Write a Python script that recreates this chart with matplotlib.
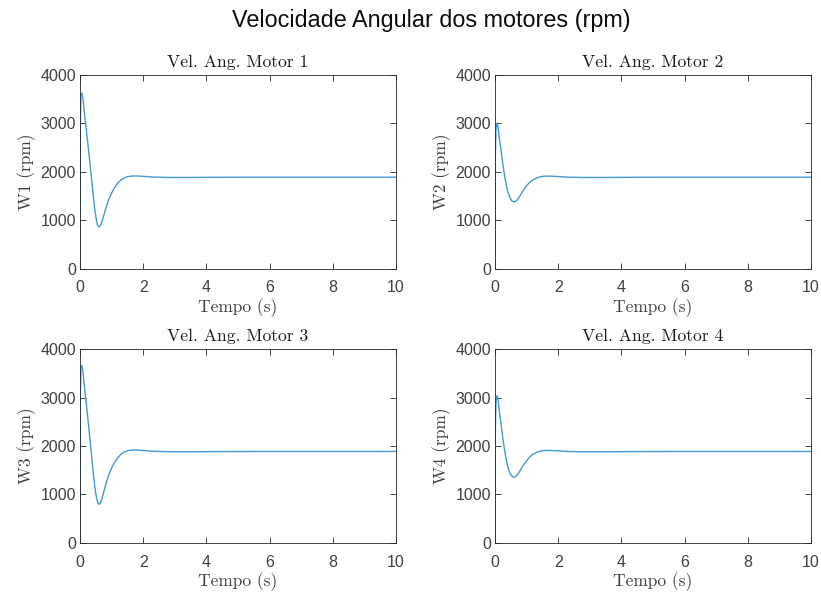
import matplotlib
matplotlib.use("Agg")
import matplotlib.pyplot as plt

t = [0, 0.01, 0.03, 0.05, 0.07, 0.1, 0.14, 0.2, 0.26, 0.32, 0.37, 0.42, 0.47, 0.52,
     0.56, 0.6, 0.64, 0.69, 0.74, 0.82, 0.9, 1.0, 1.11, 1.2, 1.32, 1.42, 1.53, 1.65,
     1.79, 2.0, 2.32, 2.8, 3.5, 4.5, 6, 8, 10]

W1 = [0, 3000, 3580, 3630, 3610, 3480, 3200, 2860, 2510, 2140, 1825, 1500, 1206, 1000,
      890, 855, 880, 960, 1068, 1250, 1412, 1560, 1687, 1770, 1845, 1880, 1900, 1912,
      1913, 1905, 1890, 1882, 1882, 1886, 1888, 1888, 1888]
W2 = [0, 2300, 2850, 2980, 3006, 2900, 2680, 2400, 2099, 1860, 1687, 1560, 1468, 1410,
      1385, 1377, 1385, 1410, 1447, 1535, 1619, 1710, 1790, 1835, 1872, 1893, 1907, 1910,
      1908, 1900, 1887, 1882, 1882, 1886, 1888, 1888, 1888]
W3 = [0, 3050, 3610, 3660, 3640, 3500, 3220, 2870, 2500, 2110, 1780, 1450, 1150, 940,
      830, 795, 820, 905, 1020, 1215, 1385, 1545, 1678, 1765, 1845, 1885, 1905, 1918,
      1918, 1908, 1892, 1883, 1882, 1886, 1888, 1888, 1888]
W4 = [0, 2350, 2890, 3010, 3040, 2930, 2700, 2410, 2100, 1850, 1670, 1540, 1445, 1390,
      1365, 1357, 1365, 1392, 1430, 1520, 1607, 1700, 1782, 1830, 1870, 1892, 1906, 1910,
      1908, 1900, 1887, 1882, 1882, 1886, 1888, 1888, 1888]

series = [W1, W2, W3, W4]
titles = ["Vel. Ang. Motor 1", "Vel. Ang. Motor 2", "Vel. Ang. Motor 3", "Vel. Ang. Motor 4"]
ylabels = ["W1 (rpm)", "W2 (rpm)", "W3 (rpm)", "W4 (rpm)"]
xticks = [0, 2, 4, 6, 8, 10]
yticks = [0, 1000, 2000, 3000, 4000]

W, H = 821, 592
fig = plt.figure(figsize=(W / 100, H / 100), dpi=100)
fig.patch.set_facecolor("white")

axcol = (0.15, 0.15, 0.15)
labcol = (0.25, 0.25, 0.25)
serif = ["cmr10", "DejaVu Serif"]

lefts = [80, 495]
tops = [75, 349.3]
aw, ah = 316, 193.5

for i, (w, ttl, yl) in enumerate(zip(series, titles, ylabels)):
    r, c = divmod(i, 2)
    ax = fig.add_axes([lefts[c] / W, 1 - (tops[r] + ah) / H, aw / W, ah / H])
    ax.plot(t, w, color="#4398d6", lw=1.0)
    ax.set_xlim(0, 10)
    ax.set_ylim(0, 4000)
    ax.set_xticks(xticks)
    ax.set_yticks(yticks)
    ax.tick_params(direction="in", length=4, width=0.6, color=axcol, labelcolor=labcol,
                   top=True, right=True, labelsize=11.5, pad=3)
    ax.tick_params(axis="x", pad=8.5)
    for lab in ax.get_xticklabels() + ax.get_yticklabels():
        lab.set_family("Liberation Sans")
    for s in ax.spines.values():
        s.set_color(axcol)
        s.set_linewidth(0.6)
    ax.set_title(ttl, fontsize=12.7, family=serif, color=(0.1, 0.1, 0.1), pad=6)
    ax.set_xlabel("Tempo (s)", fontsize=12.5, family=serif, color=labcol, labelpad=2)
    ax.set_ylabel(yl, fontsize=12.5, family=serif, color=labcol, labelpad=3)

fig.text(431.5 / W, 1 - 20 / H, "Velocidade Angular dos motores (rpm)", ha="center", va="center",
         fontsize=16.8, family="Liberation Sans", color=(0.05, 0.05, 0.05))

fig.savefig("out.png", dpi=100)
